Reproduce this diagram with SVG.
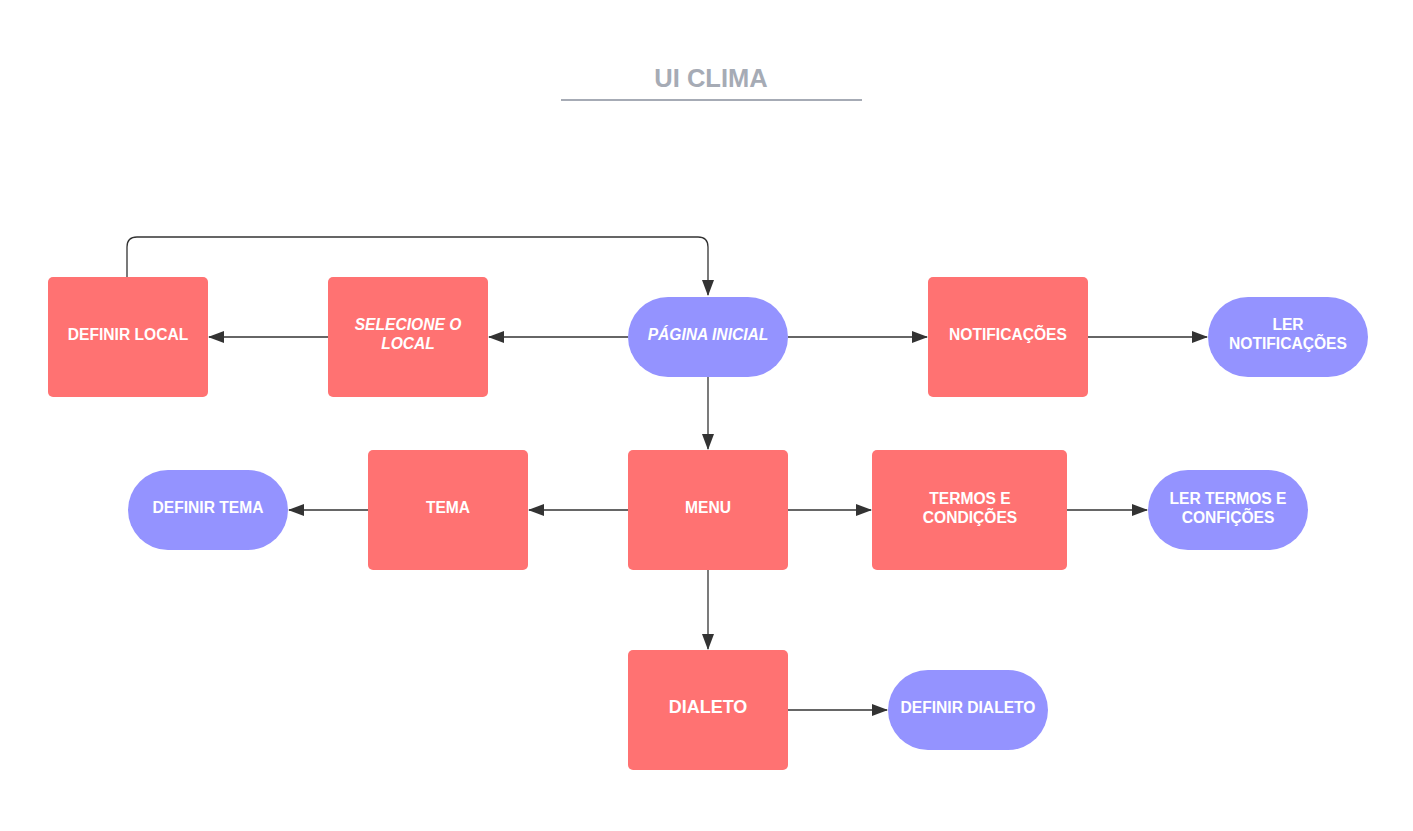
<svg xmlns="http://www.w3.org/2000/svg" width="1413" height="831" viewBox="0 0 1413 831">
<style>
.r{fill:#ff7272}
.p{fill:#9493ff}
.t{fill:#fff;font-family:"Liberation Sans",Arial,sans-serif;font-weight:bold;font-size:15.6px;text-anchor:middle}
.i{font-style:italic}
.c{fill:none;stroke:#333;stroke-width:1.3}
</style>
<defs>
<marker id="a" markerUnits="userSpaceOnUse" markerWidth="16" markerHeight="12" refX="15" refY="6" orient="auto">
<path d="M0,0 L16,6 L0,12 z" fill="#333"/>
</marker>
</defs>
<rect width="1413" height="831" fill="#fff"/>
<g id="title">
<text x="711" y="87" font-family="Liberation Sans,Arial,sans-serif" font-weight="bold" font-size="25.5" fill="#a6abb5" text-anchor="middle">UI CLIMA</text>
<line x1="561" y1="100" x2="862" y2="100" stroke="#a6abb5" stroke-width="2"/>
</g>
<g id="connectors">
<path class="c" d="M127,277 V247 Q127,237 137,237 H698 Q708,237 708,247 V295" marker-end="url(#a)"/>
<path class="c" d="M628,337 H489" marker-end="url(#a)"/>
<path class="c" d="M328,337 H209" marker-end="url(#a)"/>
<path class="c" d="M788,337 H927" marker-end="url(#a)"/>
<path class="c" d="M1088,337 H1207" marker-end="url(#a)"/>
<path class="c" d="M708,377 V449" marker-end="url(#a)"/>
<path class="c" d="M628,510 H529" marker-end="url(#a)"/>
<path class="c" d="M368,510 H289" marker-end="url(#a)"/>
<path class="c" d="M788,510 H871" marker-end="url(#a)"/>
<path class="c" d="M1067,510 H1147" marker-end="url(#a)"/>
<path class="c" d="M708,570 V649" marker-end="url(#a)"/>
<path class="c" d="M788,710 H887" marker-end="url(#a)"/>
</g>
<g id="definir-local"><rect class="r" x="48" y="277" width="160" height="120" rx="5"/><text class="t" x="128" y="340">DEFINIR LOCAL</text></g>
<g id="selecione-local"><rect class="r" x="328" y="277" width="160" height="120" rx="5"/><text class="t i" x="408" y="330">SELECIONE O</text><text class="t i" x="408" y="349">LOCAL</text></g>
<g id="pagina-inicial"><rect class="p" x="628" y="297" width="160" height="80" rx="40"/><text class="t i" x="708" y="340">PÁGINA INICIAL</text></g>
<g id="notificacoes"><rect class="r" x="928" y="277" width="160" height="120" rx="5"/><text class="t" x="1008" y="340">NOTIFICAÇÕES</text></g>
<g id="ler-notificacoes"><rect class="p" x="1208" y="297" width="160" height="80" rx="40"/><text class="t" x="1288" y="330">LER</text><text class="t" x="1288" y="349">NOTIFICAÇÕES</text></g>
<g id="definir-tema"><rect class="p" x="128" y="470" width="160" height="80" rx="40"/><text class="t" x="208" y="513">DEFINIR TEMA</text></g>
<g id="tema"><rect class="r" x="368" y="450" width="160" height="120" rx="5"/><text class="t" x="448" y="513">TEMA</text></g>
<g id="menu"><rect class="r" x="628" y="450" width="160" height="120" rx="5"/><text class="t" x="708" y="513">MENU</text></g>
<g id="termos"><rect class="r" x="872" y="450" width="195" height="120" rx="5"/><text class="t" x="970" y="504">TERMOS E</text><text class="t" x="970" y="523">CONDIÇÕES</text></g>
<g id="ler-termos"><rect class="p" x="1148" y="470" width="160" height="80" rx="40"/><text class="t" x="1228" y="504">LER TERMOS E</text><text class="t" x="1228" y="523">CONFIÇÕES</text></g>
<g id="dialeto"><rect class="r" x="628" y="650" width="160" height="120" rx="5"/><text class="t" x="708" y="713" style="font-size:18px">DIALETO</text></g>
<g id="definir-dialeto"><rect class="p" x="888" y="670" width="160" height="80" rx="40"/><text class="t" x="968" y="713">DEFINIR DIALETO</text></g>
</svg>
